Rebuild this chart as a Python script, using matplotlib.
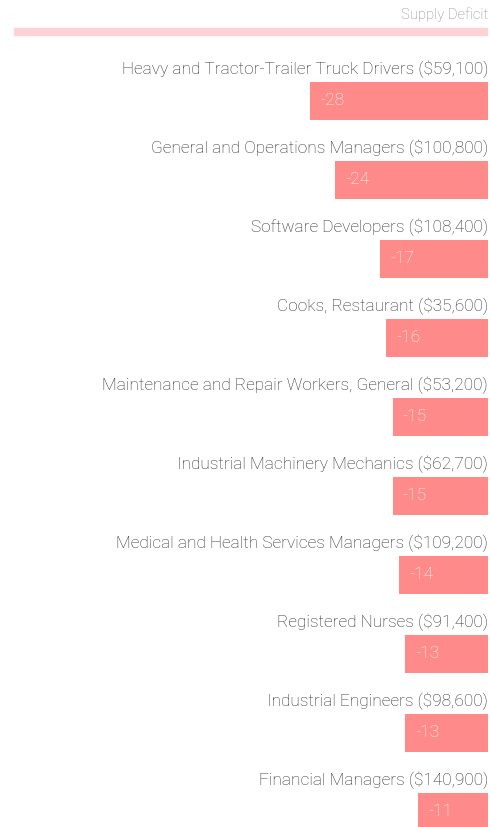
import matplotlib.pyplot as plt
import numpy as np

occupations = [
    "Heavy and Tractor-Trailer Truck Drivers",
    "General and Operations Managers",
    "Software Developers",
    "Cooks, Restaurant",
    "Maintenance and Repair Workers, General",
    "Industrial Machinery Mechanics",
    "Medical and Health Services Managers",
    "Registered Nurses",
    "Industrial Engineers",
    "Financial Managers",
]
salaries = ["$59,100", "$100,800", "$108,400", "$35,600", "$53,200",
            "$62,700", "$109,200", "$91,400", "$98,600", "$140,900"]
deficit = [-28, -24, -17, -16, -15, -15, -14, -13, -13, -11]

bar_color = "#ff8a8a"
line_color = "#ffd3d3"

fig = plt.figure(figsize=(4.9, 8.27), dpi=100)
ax = fig.add_axes([0, 0, 1, 1])
ax.set_xlim(-76.7, 0.31)
ax.set_ylim(9.19, -1.278)
ax.axis("off")

rows = np.arange(len(occupations))
ax.barh(rows, deficit, height=0.48, color=bar_color, edgecolor="none")

for i, (occ, sal, d) in enumerate(zip(occupations, salaries, deficit)):
    ax.text(0, i - 0.395, f"{occ} ({sal})", ha="right", va="center",
            fontsize=12.45, color="#2c2c2c", family="Roboto", fontweight="light")
    ax.text(d + 1.6, i, f"-{abs(d)}", ha="left", va="center",
            fontsize=12.5, color="white", family="Roboto", fontweight="light")

ax.text(0, -1.09, "Supply Deficit", ha="right", va="center",
        fontsize=10.6, color="#8a8a8a", family="Roboto", fontweight="light")
ax.plot([-74.5, 0], [-0.873, -0.873], color=line_color, linewidth=6,
        solid_capstyle="butt")

fig.savefig("out.png", dpi=100)
